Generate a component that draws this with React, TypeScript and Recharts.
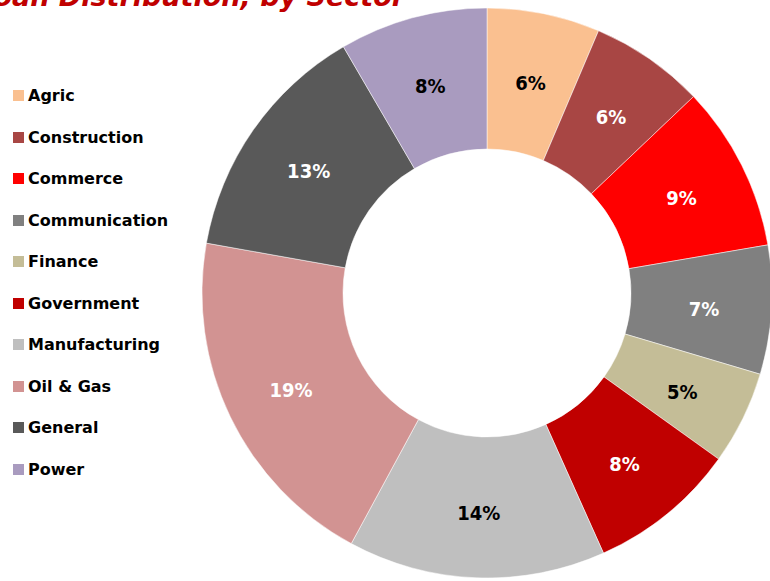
import { PieChart, Pie, Cell } from "recharts"

const sectors = [
  "Agric",
  "Construction",
  "Commerce",
  "Communication",
  "Finance",
  "Government",
  "Manufacturing",
  "Oil & Gas",
  "General",
  "Power",
]
const shares = [6.4, 6.5, 9.4, 7.3, 5.3, 8.4, 14.6, 19.9, 13.8, 8.4]
const shareLabels = ["6%", "6%", "9%", "7%", "5%", "8%", "14%", "19%", "13%", "8%"]
const colors = [
  "#FAC090",
  "#A84644",
  "#FF0000",
  "#808080",
  "#C4BD97",
  "#C00000",
  "#BFBFBF",
  "#D29392",
  "#595959",
  "#A99BBF",
]
const labelColors = ["#000", "#fff", "#fff", "#fff", "#000", "#fff", "#000", "#fff", "#fff", "#000"]

const data = sectors.map((name, i) => ({ name, value: shares[i] }))

const RADIAN = Math.PI / 180

function renderLabel(props: any) {
  const { cx, cy, midAngle, innerRadius, outerRadius, index } = props
  const r = (innerRadius + outerRadius) / 2 + 3
  const x = cx + r * Math.cos(-midAngle * RADIAN)
  const y = cy + r * Math.sin(-midAngle * RADIAN) + 3
  return (
    <text
      x={x}
      y={y}
      fill={labelColors[index]}
      textAnchor="middle"
      dominantBaseline="central"
      fontFamily="'DejaVu Sans Condensed', 'DejaVu Sans', sans-serif"
      fontWeight="bold"
      fontSize={20}
    >
      {shareLabels[index]}
    </text>
  )
}

export default function App() {
  return (
    <div style={{ position: "absolute", left: 0, top: 0, width: 770, height: 581, overflow: "hidden", background: "#fff" }}>
      <PieChart width={770} height={581} margin={{ top: 0, right: 0, bottom: 0, left: 0 }}>
        <Pie
          data={data}
          dataKey="value"
          nameKey="name"
          cx={487}
          cy={293}
          innerRadius={144}
          outerRadius={285}
          startAngle={90}
          endAngle={-270}
          stroke="#ffffff"
          strokeWidth={0.5}
          label={renderLabel}
          labelLine={false}
          isAnimationActive={false}
        >
          {data.map((d, i) => (
            <Cell key={d.name} fill={colors[i]} />
          ))}
        </Pie>
      </PieChart>
      {/* title sits mostly above the visible area, as in the source image */}
      <svg width={770} height={20} style={{ position: "absolute", left: 0, top: 0 }}>
        <text
          x={405}
          y={6}
          textAnchor="end"
          fill="#C00000"
          fontFamily="'DejaVu Sans', sans-serif"
          fontWeight="bold"
          fontStyle="italic"
          fontSize={27}
        >
          Loan Distribution, by Sector
        </text>
      </svg>
      <div
        style={{
          position: "absolute",
          left: 13,
          top: 75,
          fontFamily: "'DejaVu Sans', sans-serif",
          fontWeight: "bold",
          fontSize: 16,
          color: "#000",
        }}
      >
        {sectors.map((s, i) => (
          <div key={s} style={{ display: "flex", alignItems: "center", height: 41.5 }}>
            <span style={{ display: "inline-block", width: 11, height: 11, background: colors[i], marginRight: 4 }} />
            <span>{s}</span>
          </div>
        ))}
      </div>
    </div>
  )
}
